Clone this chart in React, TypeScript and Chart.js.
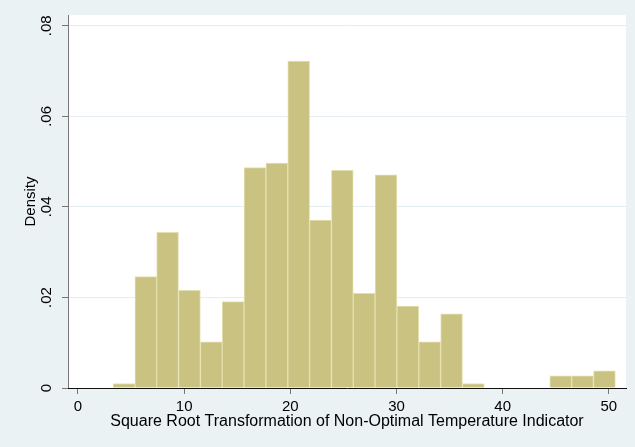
import React, { useEffect, useRef } from "react";
import { Chart, registerables } from "chart.js";

Chart.register(...registerables);

// Histogram bins (centres of equal-width bins) and their densities
const binCenters = [
  4.33, 6.39, 8.44, 10.5, 12.56, 14.61, 16.67, 18.73, 20.79, 22.84, 24.9, 26.96,
  29.01, 31.07, 33.13, 35.19, 37.24, 39.3, 41.36, 43.41, 45.47, 47.53, 49.59,
];
const densities = [
  0.001, 0.0246, 0.0344, 0.0216, 0.0102, 0.0191, 0.0487, 0.0497, 0.0722, 0.0371,
  0.0481, 0.0209, 0.0471, 0.0181, 0.0102, 0.0164, 0.001, 0, 0, 0, 0.0027, 0.0027,
  0.0038,
];
const xTickValues = [0, 10, 20, 30, 40, 50];
const yTickValues = [0, 0.02, 0.04, 0.06, 0.08];
const yTickLabels = ["0", ".02", ".04", ".06", ".08"];
const xTitle = "Square Root Transformation of Non-Optimal Temperature Indicator";
const yTitle = "Density";

const FONT = "Arial, 'Liberation Sans', Helvetica, sans-serif";
const BG = "#eaf2f3";

export default function App() {
  const ref = useRef<HTMLCanvasElement | null>(null);

  useEffect(() => {
    if (!ref.current) return;
    const bgPlugin = {
      id: "bgPlugin",
      beforeDraw(chart: any) {
        const { ctx, chartArea } = chart;
        ctx.save();
        ctx.fillStyle = BG;
        ctx.fillRect(0, 0, chart.width, chart.height);
        ctx.fillStyle = "#ffffff";
        ctx.fillRect(
          chartArea.left,
          chartArea.top,
          chartArea.right - chartArea.left,
          chartArea.bottom - chartArea.top
        );
        ctx.restore();
      },
      afterDraw(chart: any) {
        const { ctx } = chart;
        const ys = chart.scales.y;
        ctx.save();
        ctx.fillStyle = "#000";
        ctx.font = `15px ${FONT}`;
        ctx.textAlign = "center";
        ctx.textBaseline = "middle";
        yTickValues.forEach((v, i) => {
          const py = ys.getPixelForValue(v);
          ctx.save();
          ctx.translate(47, py);
          ctx.rotate(-Math.PI / 2);
          ctx.fillText(yTickLabels[i], 0, 0);
          ctx.restore();
        });
        ctx.restore();
      },
    };

    const chart = new Chart(ref.current, {
      type: "bar",
      data: {
        datasets: [
          {
            data: binCenters.map((x, i) => ({ x, y: densities[i] })),
            backgroundColor: "#c9c281",
            borderColor: "#e4dfae",
            borderWidth: 1,
            barPercentage: 1,
            categoryPercentage: 1,
          },
        ],
      },
      options: {
        animation: false,
        responsive: false,
        maintainAspectRatio: false,
        layout: { padding: { top: 15, right: 9, left: 0, bottom: 0 } },
        plugins: { legend: { display: false }, tooltip: { enabled: false } },
        scales: {
          x: {
            type: "linear",
            offset: false,
            min: -0.94,
            max: 51.62,
            afterBuildTicks(scale: any) {
              scale.ticks = xTickValues.map((v) => ({ value: v }));
            },
            afterFit(scale: any) {
              scale.height = 59;
            },
            ticks: {
              color: "#000",
              font: { family: FONT, size: 15 },
              padding: 4,
              maxRotation: 0,
              callback: (v: any) => String(v),
            },
            grid: {
              offset: false,
              drawOnChartArea: false,
              drawTicks: true,
              tickLength: 6,
              tickColor: "#777777",
            },
            border: { display: true, color: "#111111", width: 1, z: 1 },
            title: {
              display: true,
              text: xTitle,
              color: "#000",
              font: { family: FONT, size: 16 },
              padding: { top: 0, bottom: 15.7 },
            },
          },
          y: {
            type: "linear",
            min: 0,
            max: 0.0824,
            afterBuildTicks(scale: any) {
              scale.ticks = yTickValues.map((v) => ({ value: v }));
            },
            afterFit(scale: any) {
              scale.width = 68;
            },
            ticks: { display: false },
            grid: {
              color: (c: any) => (c.tick && c.tick.value === 0 ? "rgba(0,0,0,0)" : "#e4edf1"),
              lineWidth: 1,
              drawTicks: true,
              tickLength: 6,
              tickColor: "#777777",
            },
            border: { display: true, color: "#777777", width: 1 },
            title: {
              display: true,
              text: yTitle,
              color: "#000",
              font: { family: FONT, size: 15 },
              padding: { top: 22, bottom: 0 },
            },
          },
        },
      },
      plugins: [bgPlugin],
    });
    return () => chart.destroy();
  }, []);

  return (
    <div style={{ position: "absolute", left: 0, top: 0, width: 635, height: 447 }}>
      <canvas ref={ref} width={635} height={447} />
    </div>
  );
}
